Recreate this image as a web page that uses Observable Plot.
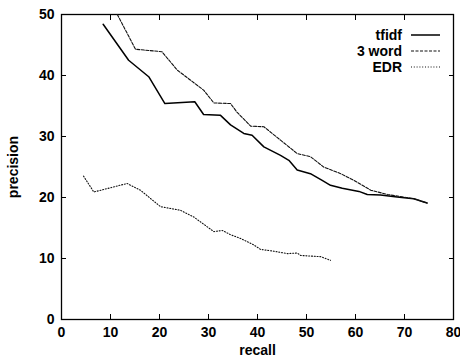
<!DOCTYPE html>
<html><head><meta charset="utf-8">
<script src="https://cdn.jsdelivr.net/npm/d3@7"></script>
<script src="https://cdn.jsdelivr.net/npm/@observablehq/plot@0.6"></script>
<style>
html,body{margin:0;padding:0;background:#fff;}
#wrap{position:relative;width:460px;height:357px;font-family:"Liberation Sans",Arial,sans-serif;}
#legend{position:absolute;left:0;top:0;}
</style>
</head><body>
<div id="wrap"><div id="chart"></div><svg id="legend" width="460" height="357"></svg></div>
<script>
const seriesNames = ["tfidf", "3 word", "EDR"];
const tfidfRecall = [8.5, 13.7, 17.8, 21.1, 27.2, 29.0, 32.4, 34.5, 37.2, 38.9, 41.3, 44.7, 46.4, 48.1, 50.8, 53.2, 54.9, 57.3, 60.7, 62.4, 65.1, 68.5, 71.9, 74.6];
const tfidfPrecision = [48.4, 42.5, 39.8, 35.4, 35.7, 33.6, 33.5, 31.9, 30.5, 30.2, 28.3, 26.9, 26.1, 24.5, 23.9, 22.8, 22.0, 21.5, 21.0, 20.5, 20.4, 20.1, 19.8, 19.1];
const wordRecall = [11.4, 15.1, 20.5, 23.6, 29.0, 31.1, 34.5, 35.8, 38.6, 41.3, 44.7, 48.1, 50.8, 53.5, 57.0, 59.7, 63.1, 66.5, 71.9, 74.6];
const wordPrecision = [50.0, 44.3, 43.9, 40.9, 37.6, 35.5, 35.4, 34.0, 31.7, 31.6, 29.4, 27.2, 26.7, 25.0, 23.9, 22.8, 21.2, 20.5, 19.8, 19.1];
const edrRecall = [4.5, 6.6, 13.4, 16.1, 20.2, 24.3, 27.0, 31.1, 32.8, 34.5, 36.5, 39.3, 40.6, 43.3, 46.1, 48.1, 48.8, 52.9, 54.9];
const edrPrecision = [23.5, 20.9, 22.3, 21.2, 18.5, 17.9, 16.8, 14.4, 14.6, 13.9, 13.3, 12.2, 11.5, 11.2, 10.8, 10.9, 10.5, 10.3, 9.7];
const xTicks = [0, 10, 20, 30, 40, 50, 60, 70, 80];
const yTicks = [0, 10, 20, 30, 40, 50];

const toRows = (xs, ys, name) => xs.map((x, i) => ({recall: x, precision: ys[i], series: name}));
const tfidf = toRows(tfidfRecall, tfidfPrecision, seriesNames[0]);
const word = toRows(wordRecall, wordPrecision, seriesNames[1]);
const edr = toRows(edrRecall, edrPrecision, seriesNames[2]);
const styles = [
  {stroke: "#000", strokeWidth: 1.5, strokeDasharray: null},
  {stroke: "#111", strokeWidth: 1.1, strokeDasharray: "3,1.5"},
  {stroke: "#111", strokeWidth: 1.1, strokeDasharray: "1,1.8"}
];
const fontStyle = {fontFamily: "Liberation Sans, Arial, sans-serif", fontWeight: "bold", fontSize: "14px"};

const chart = Plot.plot({
  width: 460, height: 357,
  marginLeft: 61, marginRight: 7, marginTop: 14, marginBottom: 38,
  style: {...fontStyle, background: "#fff", color: "#000"},
  x: {domain: [0, 80], ticks: xTicks},
  y: {domain: [0, 50], ticks: yTicks},
  marks: [
    Plot.frame({stroke: "#000", strokeWidth: 1.3}),
    Plot.axisX({ticks: xTicks, tickSize: -5, tickPadding: 13, label: "recall", labelAnchor: "center", labelArrow: "none", labelOffset: 35, fontSize: 14}),
    Plot.axisX({ticks: xTicks, anchor: "top", tickSize: -5, tickFormat: () => "", label: null}),
    Plot.axisY({ticks: yTicks, tickSize: -5, tickPadding: 12, label: "precision", labelAnchor: "center", labelArrow: "none", labelOffset: 53, fontSize: 14}),
    Plot.axisY({ticks: yTicks, anchor: "right", tickSize: -5, tickFormat: () => "", label: null}),
    Plot.line(tfidf, {x: "recall", y: "precision", ...styles[0], clip: true}),
    Plot.line(word, {x: "recall", y: "precision", ...styles[1], clip: true}),
    Plot.line(edr, {x: "recall", y: "precision", ...styles[2], clip: true})
  ]
});
document.getElementById("chart").appendChild(chart);

const lg = d3.select("#legend");
seriesNames.forEach((name, i) => {
  const y = 35 + i * 16;
  lg.append("text").attr("x", 402).attr("y", y + 5).attr("text-anchor", "end")
    .style("font-family", fontStyle.fontFamily).style("font-weight", "bold").style("font-size", "14px").text(name);
  const l = lg.append("line").attr("x1", 411).attr("x2", 440).attr("y1", y).attr("y2", y)
    .attr("stroke", styles[i].stroke).attr("stroke-width", styles[i].strokeWidth);
  if (styles[i].strokeDasharray) l.attr("stroke-dasharray", styles[i].strokeDasharray);
});
</script>
</body></html>
